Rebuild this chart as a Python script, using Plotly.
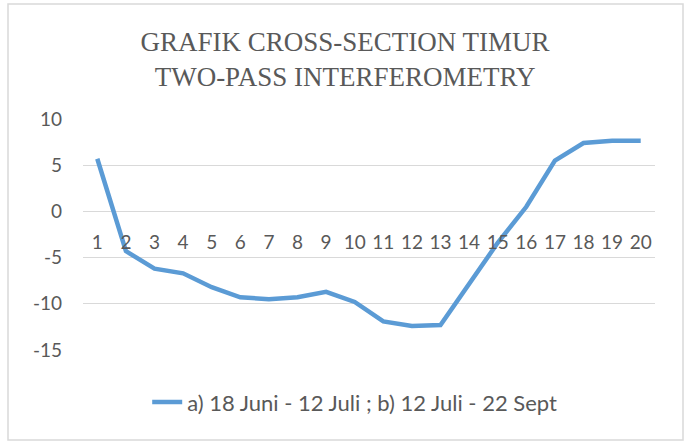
import plotly.graph_objects as go

# cross-section points and displacement values
points = list(range(1, 21))
displacement = [5.7, -4.3, -6.2, -6.7, -8.2, -9.3, -9.5, -9.3, -8.7, -9.8,
                -11.9, -12.4, -12.3, -7.8, -3.4, 0.5, 5.5, 7.4, 7.65, 7.65]
series_name = "a) 18 Juni - 12 Juli ; b) 12 Juli - 22 Sept"
y_ticks = [-15, -10, -5, 0, 5, 10]
y_labels = ["-15", "-10", "-5", "0", "5", "10"]

title_text = "GRAFIK CROSS-SECTION TIMUR<br>TWO-PASS INTERFEROMETRY"

grey = "#595959"
grid = "#d9d9d9"

fig = go.Figure()
fig.add_trace(go.Scatter(
    x=points, y=displacement, mode="lines", name=series_name,
    line=dict(color="#5B9BD5", width=4.5),
))

fig.update_layout(
    width=686, height=441,
    margin=dict(l=83, r=31, t=119, b=91),
    paper_bgcolor="white", plot_bgcolor="white",
    title=dict(text=title_text, x=0.503, xanchor="center", y=0.885, yanchor="top",
               font=dict(family="Liberation Serif", size=27, color=grey)),
    showlegend=True,
    legend=dict(orientation="h", x=0.475, xanchor="center", y=-0.135, yanchor="top",
                font=dict(family="Lato", size=22, color=grey)),
    font=dict(family="Lato", size=19, color=grey),
)

fig.update_xaxes(
    range=[0.5, 20.5], tickvals=points, ticktext=[str(p) for p in points],
    anchor="free", position=0.6, ticklabelstandoff=18, showgrid=False, zeroline=False,
    showline=False, ticks="", tickfont=dict(size=19, color=grey),
)
fig.update_yaxes(
    range=[-15, 10], tickvals=y_ticks, ticktext=y_labels, ticklabelstandoff=20,
    showgrid=True, gridcolor=grid, gridwidth=1,
    zeroline=False, showline=False, ticks="", tickfont=dict(size=19, color=grey),
)

# outer chart border
fig.add_shape(type="rect", xref="paper", yref="paper",
              x0=(8 - 83) / 572, x1=(683 - 83) / 572,
              y0=(350 - 440) / 231, y1=(350 - 4) / 231,
              line=dict(color=grid, width=1.5), layer="below")

fig.write_html("out.html", config={"displayModeBar": False},
               post_script="document.body.style.margin='0';")
